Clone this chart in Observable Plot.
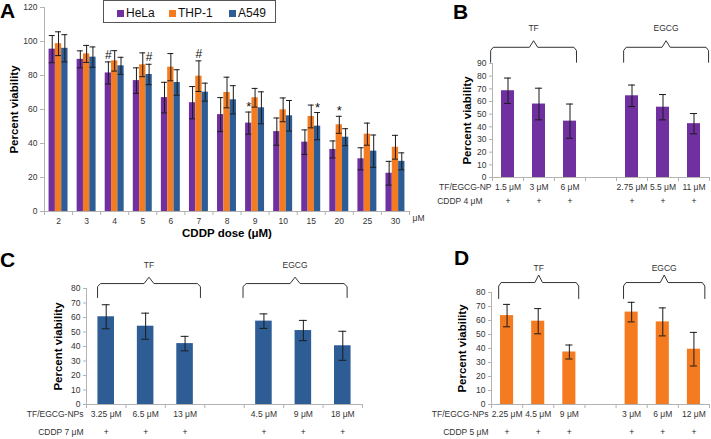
<!DOCTYPE html>
<html>
<head>
<meta charset="utf-8">
<script src="https://cdn.jsdelivr.net/npm/d3@7"></script>
<script src="https://cdn.jsdelivr.net/npm/@observablehq/plot@0.6"></script>
<style>
  html, body { margin: 0; padding: 0; background: #fff; }
  body { font-family: "Liberation Sans", Arial, sans-serif; }
  #root { position: relative; width: 711px; height: 439px; overflow: hidden; background: #fff; }
  .panel { position: absolute; }
  .panel svg { overflow: visible; }
  .letter { position: absolute; font-weight: bold; font-size: 21px; line-height: 21px; color: #000; }
  .legend { position: absolute; left: 103px; top: 0px; width: 173px; height: 23px; box-sizing: border-box; border: 1px solid #555; background: #fff; }
  .legend .item { position: absolute; top: 5px; height: 14px; display: flex; align-items: center; gap: 2px; font-size: 12px; line-height: 14px; color: #111; }
  .legend .sw { width: 7px; height: 7px; display: inline-block; }
</style>
</head>
<body>
<div id="root"></div>
<script>
// ---------- Panel A data ----------
const doses = ["2", "3", "4", "5", "6", "7", "8", "9", "10", "15", "20", "25", "30"];
const cellLines = ["HeLa", "THP-1", "A549"];
const lineColors = ["#7030A0", "#F47B20", "#2E5D96"];
const helaMean = [95.5, 89.5, 81.5, 77, 67, 64, 57, 52, 47, 40.8, 36.5, 31, 22.5];
const helaErr  = [8, 5, 6.5, 7.5, 9, 9.5, 10, 6.5, 8, 7.2, 5, 6.5, 7];
const thpMean  = [98.7, 92.7, 88.6, 86.3, 84.9, 79.6, 70, 66.9, 59.8, 55.9, 51, 45.5, 37.8];
const thpErr   = [7, 5, 6, 7, 8, 9, 9, 5.5, 7, 6.7, 5, 6.5, 7];
const a549Mean = [96, 90.8, 85.7, 80.6, 75.9, 70.2, 65.7, 61, 56.3, 50.2, 43.7, 35.5, 29.5];
const a549Err  = [8, 6, 5, 6, 7.5, 5.3, 8.3, 9.4, 9, 8, 5, 9.5, 5];
const sigDose   = ["4", "5", "7", "9", "15", "20"];
const sigLine   = ["HeLa", "A549", "THP-1", "HeLa", "A549", "THP-1"];
const sigSymbol = ["#", "#", "#", "*", "*", "*"];
const aTicks = [0, 20, 40, 60, 80, 100, 120];

// ---------- Panels B, C, D data ----------
const groups = ["TF", "EGCG"];
const plusRow = ["+", "+", "+", "", "+", "+", "+"];

const bLabels = ["1.5 μM", "3 μM", "6 μM", "", "2.75 μM", "5.5 μM", "11 μM"];
const bMean = [68.5, 58, 44.5, null, 64.5, 55.5, 42.5];
const bErr  = [10, 12.5, 13.5, null, 8.5, 10, 8];
const bTicks = [0, 10, 20, 30, 40, 50, 60, 70, 80, 90];

const cLabels = ["3.25 μM", "6.5 μM", "13 μM", "", "4.5 μM", "9 μM", "18 μM"];
const cMean = [60.5, 54, 42, null, 57.5, 51, 40.5];
const cErr  = [8.3, 9, 5, null, 5, 7, 10];

const dLabels = ["2.25 μM", "4.5 μM", "9 μM", "", "3 μM", "6 μM", "12 μM"];
const dMean = [63.5, 59.5, 37.5, null, 66, 59, 39.5];
const dErr  = [8, 9, 5, null, 7, 10, 12];
const cdTicks = [0, 10, 20, 30, 40, 50, 60, 70, 80];

// ---------- styling ----------
const FONT = "'Liberation Sans', Arial, sans-serif";
const axisColor = "#b3b3b3";
const textColor = "#333";
const errColor = "#1a1a1a";

const root = document.getElementById("root");

function place(svg, left, top) {
  const div = document.createElement("div");
  div.className = "panel";
  div.style.left = left + "px";
  div.style.top = top + "px";
  div.appendChild(svg);
  root.appendChild(div);
}

function bracePoints(x1, x2, ys, g) {
  const [yb, yt, yp] = ys;
  const xm = (x1 + x2) / 2, w = x2 - x1;
  const c = w * 0.03, h = (yt - yb) * 0.22;
  return [
    [x1, yb], [x1, yt - h], [x1 + c, yt], [xm - c * 1.6, yt], [xm, yp],
    [xm + c * 1.6, yt], [x2 - c, yt], [x2, yt - h], [x2, yb]
  ].map(([x, y]) => ({x, y, g}));
}

// ---------- Panel A ----------
function panelA() {
  const means = [helaMean, thpMean, a549Mean];
  const errs = [helaErr, thpErr, a549Err];
  const rows = doses.flatMap((d, i) => cellLines.map((line, s) => ({i, s, line, mean: means[s][i], err: errs[s][i]})));
  const bw = 0.225, cap = 0.105;
  const xc = r => r.i + (r.s - 1) * bw;
  const sig = sigDose.map((d, k) => {
    const r = rows.find(q => q.i === doses.indexOf(d) && q.line === sigLine[k]);
    return {...r, symbol: sigSymbol[k]};
  });
  return Plot.plot({
    width: 432, height: 245,
    marginLeft: 44, marginRight: 23, marginTop: 7, marginBottom: 34,
    style: {fontFamily: FONT, fontSize: "8.5px", color: textColor, background: "transparent", overflow: "visible"},
    x: {domain: [-0.5, doses.length - 0.5]},
    y: {domain: [0, 120]},
    color: {domain: cellLines, range: lineColors},
    marks: [
      Plot.rect(rows, {x1: r => xc(r) - bw / 2, x2: r => xc(r) + bw / 2, y1: 0, y2: "mean", fill: "line"}),
      Plot.ruleX(rows, {x: xc, y1: r => r.mean - r.err, y2: r => r.mean + r.err, stroke: errColor}),
      Plot.ruleY(rows, {y: r => r.mean + r.err, x1: r => xc(r) - cap, x2: r => xc(r) + cap, stroke: errColor}),
      Plot.ruleY(rows, {y: r => r.mean - r.err, x1: r => xc(r) - cap, x2: r => xc(r) + cap, stroke: errColor}),
      Plot.ruleX([-0.5], {stroke: axisColor}),
      Plot.ruleY([0], {stroke: axisColor}),
      Plot.axisY({ticks: aTicks, tickSize: 4, tickPadding: 3, stroke: axisColor, fill: textColor, label: null}),
      Plot.axisX({ticks: d3.range(doses.length + 1).map(k => k - 0.5), tickSize: 4, tickFormat: () => "", stroke: axisColor, label: null}),
      Plot.axisX({ticks: d3.range(doses.length), tickSize: 0, tickPadding: 6, tickFormat: k => doses[k], fill: textColor, label: null}),
      Plot.text(["μM"], {frameAnchor: "bottom-right", textAnchor: "start", dx: 3, dy: 9, fill: textColor}),
      Plot.text(["CDDP dose (μM)"], {frameAnchor: "bottom", dy: 25, fontWeight: "bold", fontSize: 11.5, fill: "#000"}),
      Plot.text(["Percent viability"], {frameAnchor: "left", textAnchor: "middle", rotate: -90, dx: -30, fontWeight: "bold", fontSize: 11.5, fill: "#000"}),
      Plot.text(sig.filter(d => d.symbol === "#"), {x: xc, y: r => r.mean + r.err, text: "symbol", dy: -7, fontSize: 12, fill: "#111"}),
      Plot.text(sig.filter(d => d.symbol === "*"), {x: xc, y: r => r.mean + r.err, text: "symbol", dy: -5, fontSize: 13, fill: "#111"})
    ]
  });
}

// ---------- Panels B, C, D ----------
function groupedPanel(o) {
  const n = o.labels.length;
  const rows = o.labels.map((label, i) => ({i, label, mean: o.mean[i], err: o.err[i], plus: plusRow[i]}));
  const bars = rows.filter(r => r.mean != null);
  const bw = 0.42;
  const braces = groups.flatMap((g, k) => bracePoints(o.brX1[k], o.brX2[k], o.brY, g));
  const braceLabels = groups.map((g, k) => ({g, x: (o.brX1[k] + o.brX2[k]) / 2}));
  return Plot.plot({
    width: o.width, height: o.height,
    marginLeft: o.ml, marginRight: o.mr, marginTop: o.mt, marginBottom: o.mb,
    style: {fontFamily: FONT, fontSize: "8.5px", color: textColor, background: "transparent", overflow: "visible"},
    x: {domain: [-0.5, n - 0.5]},
    y: {domain: [0, o.yMax]},
    marks: [
      Plot.rect(bars, {x1: r => r.i - bw / 2, x2: r => r.i + bw / 2, y1: 0, y2: "mean", fill: o.color}),
      Plot.ruleX(bars, {x: "i", y1: r => r.mean - r.err, y2: r => r.mean + r.err, stroke: errColor}),
      Plot.ruleY(bars, {y: r => r.mean + r.err, x1: r => r.i - o.cap, x2: r => r.i + o.cap, stroke: errColor}),
      Plot.ruleY(bars, {y: r => r.mean - r.err, x1: r => r.i - o.cap, x2: r => r.i + o.cap, stroke: errColor}),
      Plot.ruleX([-0.5], {stroke: axisColor}),
      Plot.ruleY([0], {stroke: axisColor}),
      Plot.axisY({ticks: o.ticks, tickSize: 3, tickPadding: 3, stroke: axisColor, fill: textColor, label: null}),
      Plot.axisX({ticks: d3.range(n + 1).map(k => k - 0.5), tickSize: 4, tickFormat: () => "", stroke: axisColor, label: null}),
      Plot.text(rows, {x: "i", text: "label", frameAnchor: "bottom", dy: o.row1Dy, fill: textColor}),
      Plot.text(rows, {x: "i", text: "plus", frameAnchor: "bottom", dy: o.row2Dy, fill: "#222"}),
      Plot.text([o.rowLabel1], {frameAnchor: "bottom-left", textAnchor: "end", dx: o.row1Dx, dy: o.row1Dy, fill: textColor}),
      Plot.text([o.rowLabel2], {frameAnchor: "bottom-left", textAnchor: "end", dx: o.row2Dx, dy: o.row2Dy, fill: textColor}),
      Plot.line(braces, {x: "x", y: "y", z: "g", stroke: "#333", strokeWidth: 1}),
      Plot.text(braceLabels, {x: "x", y: () => o.brY[3], text: "g", fill: textColor}),
      Plot.text(["Percent viability"], {frameAnchor: "left", textAnchor: "middle", rotate: -90, dx: o.titleDx, fontWeight: "bold", fontSize: 11.5, fill: "#000"})
    ]
  });
}

place(panelA(), 0, 0);

place(groupedPanel({
  labels: bLabels, mean: bMean, err: bErr, color: lineColors[0], yMax: 90, ticks: bTicks,
  width: 281, height: 195, ml: 62, mr: 2, mt: 43, mb: 38, cap: 0.113,
  row1Dy: 12, row2Dy: 26, row1Dx: -1, row2Dx: -10,
  rowLabel1: "TF/EGCG-NP", rowLabel2: "CDDP 4 μM",
  brX1: [-0.56, 3.73], brX2: [2.21, 6.47], brY: [91, 102.8, 108, 117.6],
  titleDx: -25
}), 430, 20);

place(groupedPanel({
  labels: cLabels, mean: cMean, err: cErr, color: lineColors[2], yMax: 80, ticks: cdTicks,
  width: 366, height: 189, ml: 86, mr: 4, mt: 38, mb: 35, cap: 0.1,
  row1Dy: 12, row2Dy: 30, row1Dx: -3, row2Dx: -3,
  rowLabel1: "TF/EGCG-NPs", rowLabel2: "CDDP 7 μM",
  brX1: [-0.22, 3.47], brX2: [2.39, 6.11], brY: [73.8, 83.4, 87.8, 95.9],
  titleDx: -28
}), 0, 250);

place(groupedPanel({
  labels: dLabels, mean: dMean, err: dErr, color: lineColors[1], yMax: 80, ticks: cdTicks,
  width: 281, height: 189, ml: 61, mr: 2, mt: 42, mb: 35, cap: 0.113,
  row1Dy: 12, row2Dy: 30, row1Dx: -3, row2Dx: -3,
  rowLabel1: "TF/EGCG-NPs", rowLabel2: "CDDP 5 μM",
  brX1: [-0.27, 3.74], brX2: [2.30, 6.35], brY: [75.7, 87.1, 92.5, 97.1],
  titleDx: -29
}), 430, 250);

// ---------- legend ----------
const legend = document.createElement("div");
legend.className = "legend";
const legendLeft = [13, 65, 125];
cellLines.forEach((name, k) => {
  const item = document.createElement("div");
  item.className = "item";
  item.style.left = legendLeft[k] + "px";
  const sw = document.createElement("span");
  sw.className = "sw";
  sw.style.background = lineColors[k];
  const tx = document.createElement("span");
  tx.textContent = name;
  item.appendChild(sw);
  item.appendChild(tx);
  legend.appendChild(item);
});
root.appendChild(legend);

// ---------- panel letters ----------
[["A", 0, 0], ["B", 453, 1], ["C", 0, 249], ["D", 454, 247]].forEach(([t, l, tp]) => {
  const d = document.createElement("div");
  d.className = "letter";
  d.style.left = l + "px";
  d.style.top = tp + "px";
  d.textContent = t;
  root.appendChild(d);
});
</script>
</body>
</html>
